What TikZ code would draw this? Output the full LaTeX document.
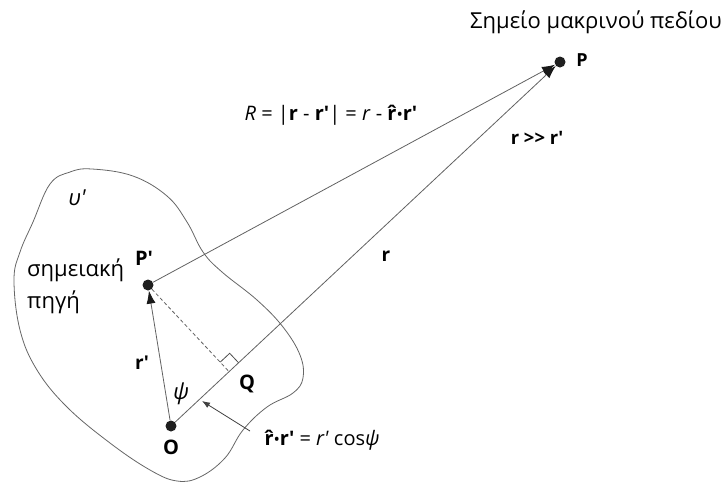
\documentclass[tikz,border=0pt]{standalone}
\usepackage{fontspec}
\setmainfont{Open Sans}
\usetikzlibrary{arrows.meta,calc}
\newcommand{\rhatb}{{\bfseries\accent"02C6 r}}
\newcommand{\tick}{\textquotesingle}
\newcommand{\sdot}{{\fontsize{17}{17}\selectfont •}}
\begin{document}
\begin{tikzpicture}[x=1pt,y=-1pt,
  dot/.style={circle,fill=black!88,inner sep=0pt,minimum size=11pt},
  vec/.style={draw=black!62,line width=0.8pt,-{Latex[length=13pt,width=9pt,color=black!90]}},
  lab/.style={font=\fontsize{20}{23}\selectfont\bfseries,inner sep=0pt},
  txt/.style={font=\fontsize{22}{26}\selectfont,inner sep=0pt},
  frm/.style={font=\fontsize{20}{24}\selectfont,inner sep=0pt},
  blob/.style={draw=black!60,line width=0.8pt}]
\useasboundingbox (0,0) rectangle (726,483);

% source region outline
\draw[blob] plot[smooth cycle, tension=0.65] coordinates {
 (50,184) (70,172) (92,169) (133,176) (167,196) (187,222) (203,252) (222,272)
 (257,300) (283,327) (300,355) (303,378) (293,393) (267,407) (243,430)
 (225,458) (200,477) (177,481) (150,470) (110,443) (67,407) (37,370)
 (20,330) (14,280) (20,252) (33,222)};

% points
\node[dot] (P) at (560,62) {};
\node[dot] (Pp) at (148,285) {};
\node[dot] (O) at (171,426) {};

% vectors
\draw[vec] (Pp) -- (P);
\draw[vec] (O) -- (P);
\draw[vec] (O) -- (Pp);

% foot of perpendicular
\coordinate (F) at ($(O)!(Pp)!(P)$);
\draw[draw=black!62,line width=0.8pt,dashed,dash pattern=on 3.5pt off 2.5pt] (Pp) -- (F);
\draw[draw=black!70,line width=0.8pt]
  ($(F)!13pt!(P)$) -- ($(F)!13pt!(P)+(F)!13pt!(Pp)-(F)$) -- ($(F)!13pt!(Pp)$);

% small pointer arrow
\coordinate (ptrTail) at (250,431);
\coordinate (ptrHead) at (202,401);
\draw[draw=black!75,line width=0.8pt,-{Latex[length=8pt,width=6pt]}] (ptrTail) -- (ptrHead);

% labels
\node[txt] (title) at (596,22) {Σημείο μακρινού πεδίου};
\node[lab,font=\fontsize{18}{21}\selectfont\bfseries] (lP) at (582,60) {P};
\node[lab] (lPp) at (144,258) {P\tick};
\node[lab] (lO) at (171,447) {O};
\node[lab] (lQ) at (247,384) {Q};
\node[txt,font=\fontsize{22}{26}\selectfont\itshape] (lpsi) at (181,394) {ψ};
\node[lab,font=\fontsize{19}{22}\selectfont\bfseries] (lrp) at (142,363) {r\tick};
\node[lab,font=\fontsize{19}{22}\selectfont\bfseries] (lr) at (386,256) {r};
\node[lab,font=\fontsize{18.5}{22}\selectfont\bfseries] (lrr) at (537,138) {r >{}> r\tick};
\node[frm] (lR) at (331,115) {\textit{R} = |\textbf{r} - \textbf{r\tick}| = \textit{r} - \rhatb\sdot\textbf{r\tick}};
\node[frm] (lcos) at (322,440) {\rhatb\sdot\textbf{r\tick} = \textit{r\tick} cos\textit{ψ}};
\node[txt,font=\fontsize{22}{26}\selectfont\itshape] (lv) at (77,198) {υ\tick};
\node[txt,anchor=west] (l1) at (27,270) {σημειακή};
\node[txt,anchor=west] (l2) at (27,302) {πηγή};
\end{tikzpicture}
\end{document}
